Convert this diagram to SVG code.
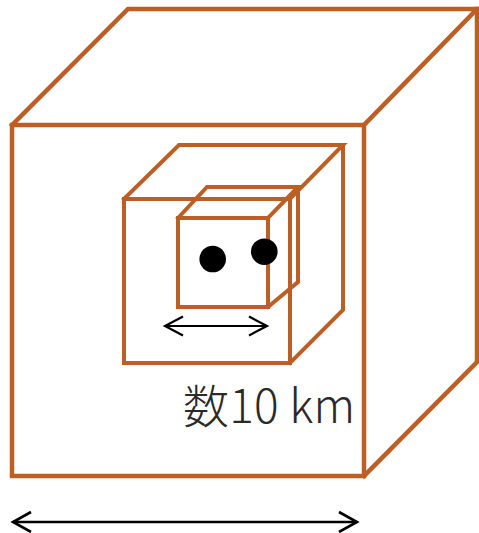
<svg xmlns="http://www.w3.org/2000/svg" width="479" height="533" viewBox="0 0 479 533">
<defs>
<style>
.cube{fill:none;stroke:#BD5F25;stroke-linejoin:miter;stroke-linecap:square}
.arr{fill:none;stroke:#000;stroke-linecap:butt;stroke-linejoin:miter}
.lbl{font-family:"Noto Sans CJK JP","Noto Sans",sans-serif;font-weight:200;fill:#2a2a2a}
</style>
</defs>
<g id="big-cube">
<rect class="cube" stroke-width="4.5" x="12" y="125" width="352" height="351"/>
<polyline class="cube" stroke-width="4.5" points="12,125 128,9 477,9 364,125"/>
<polyline class="cube" stroke-width="4.5" points="477,9 477,362 364,476"/>
</g>
<g id="medium-cube">
<rect class="cube" stroke-width="4" x="124" y="199" width="166" height="164"/>
<polyline class="cube" stroke-width="4" points="124,199 179,145 343,145 290,199"/>
<polyline class="cube" stroke-width="4" points="343,145 343,310 290,363"/>
</g>
<g id="small-cube">
<rect class="cube" stroke-width="4" x="178" y="218" width="90" height="89"/>
<polyline class="cube" stroke-width="4" points="178,218 207,187 298,187 268,218"/>
<polyline class="cube" stroke-width="4" points="298,187 298,282 268,307"/>
</g>
<g id="particles">
<circle cx="212.7" cy="259" r="13.3" fill="#000"/>
<circle cx="264.3" cy="251.7" r="13.3" fill="#000"/>
</g>
<g id="connectors">
<g id="small-arrow">
<line class="arr" stroke-width="2.2" x1="165" y1="326" x2="267" y2="326"/>
<polyline class="arr" stroke-width="2.2" points="183,316.5 165,326 183,335.5"/>
<polyline class="arr" stroke-width="2.2" points="249,316.5 267,326 249,335.5"/>
</g>
<g id="big-arrow">
<line class="arr" stroke-width="2.6" x1="13" y1="522" x2="357" y2="522"/>
<polyline class="arr" stroke-width="2.6" points="31,512 13,522 31,532"/>
<polyline class="arr" stroke-width="2.6" points="339,512 357,522 339,532"/>
</g>
</g>
<text class="lbl" x="183" y="423" font-size="46" textLength="172" lengthAdjust="spacing">数10 km</text>
</svg>
